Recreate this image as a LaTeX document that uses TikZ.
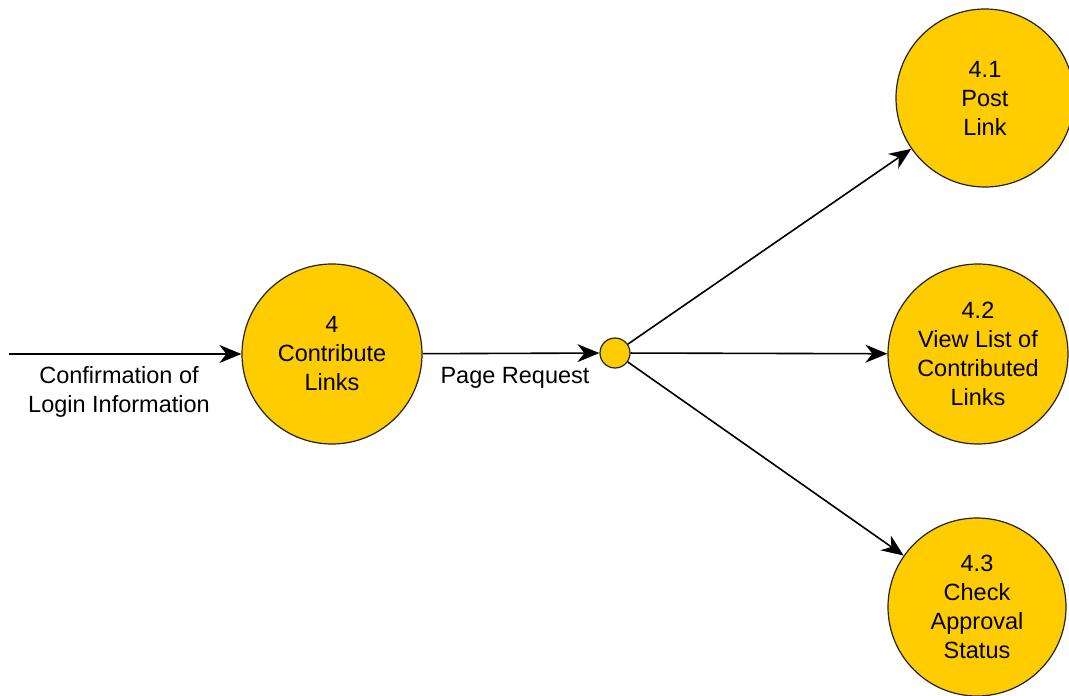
\documentclass[tikz,border=0pt]{standalone}
\usepackage{fontspec}
\setmainfont{Liberation Sans}
\usetikzlibrary{arrows.meta}
\definecolor{procfill}{HTML}{FFCC00}
\definecolor{edgegray}{HTML}{222222}
\begin{document}
\begin{tikzpicture}[x=1pt,y=-1pt,
  proc/.style={circle, draw=edgegray, line width=1.2pt, fill=procfill, minimum size=#1, inner sep=0pt, align=center, font=\fontsize{23.5}{29}\selectfont},
  junction/.style={circle, draw=edgegray, line width=1.2pt, fill=procfill, minimum size=30pt, inner sep=0pt},
  flow/.style={line width=1.6pt, draw=black, -{Stealth[length=22pt,width=18pt,inset=7pt]}},
  lbl/.style={align=center, font=\fontsize{23.5}{29}\selectfont}
]
\useasboundingbox (0,0) rectangle (1069,696);
\node[proc=180pt] (p4) at (332,354) {4\\Contribute\\Links};
\node[junction] (j) at (615,353) {};
\node[proc=178pt] (p41) at (985,98) {4.1\\Post\\Link};
\node[proc=180pt] (p42) at (978,354) {4.2\\View List of\\Contributed\\Links};
\node[proc=178pt] (p43) at (977,607) {4.3\\Check\\Approval\\Status};
\coordinate (src) at (9,354);
\draw[flow] (src) -- (p4);
\draw[flow] (p4) -- (j);
\draw[flow] (j) -- (p41);
\draw[flow] (j) -- (p42);
\draw[flow] (j) -- (p43);
\node[lbl] (l1) at (119,392) {Confirmation of\\Login Information};
\node[lbl] (l2) at (515,378) {Page Request};
\end{tikzpicture}
\end{document}
